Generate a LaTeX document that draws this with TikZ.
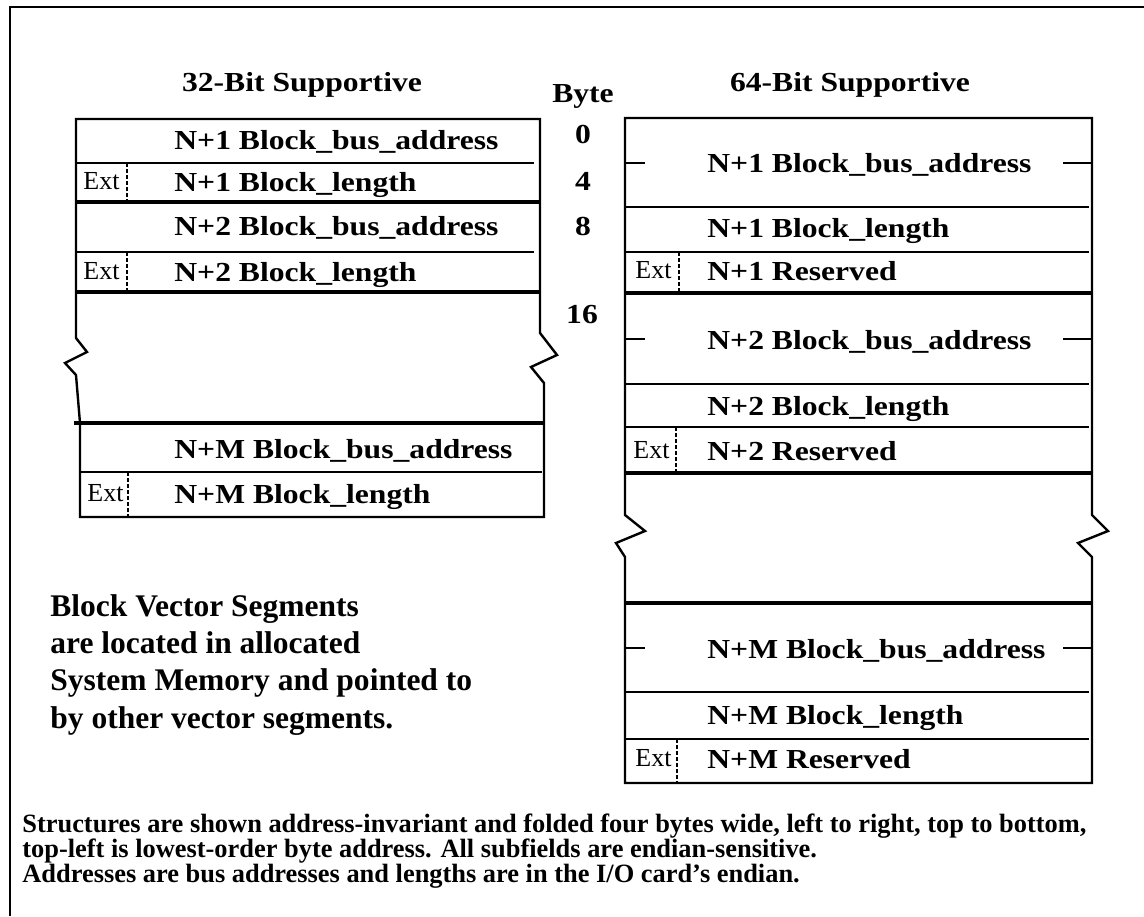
\documentclass[tikz,border=0pt]{standalone}
\usepackage{fontspec}
\setmainfont{Liberation Serif}
\newfontfamily\widefont{Liberation Serif}[FakeStretch=1.15]
\usepackage{tikz}

\tikzset{
  head/.style={font=\widefont\bfseries\fontsize{13.75}{16}\selectfont, inner sep=0pt, anchor=base},
  field/.style={font=\widefont\bfseries\fontsize{13.75}{16}\selectfont, inner sep=0pt, anchor=base west},
  extlabel/.style={font=\fontsize{13}{15}\selectfont, inner sep=0pt, anchor=base west},
  frameline/.style={line width=1.3pt},
  boxline/.style={line width=1.2pt},
  rowline/.style={line width=1pt},
  grpline/.style={line width=2.4pt},
  extline/.style={line width=1.1pt, dash pattern=on 2pt off 1pt},
  desc/.style={font=\bfseries\fontsize{15.75}{18.65}\selectfont, align=left, inner sep=0pt, anchor=north west},
  notes/.style={font=\bfseries\fontsize{13.2}{13}\selectfont, inner sep=0pt, anchor=base west}
}

\begin{document}
\begin{tikzpicture}[x=0.5pt, y=-0.5pt]
      \useasboundingbox (0,0) rectangle (1144,916);
      \draw [frameline] (1144,7) -- (10,7) -- (10,916);

      \node [head] (h32) at (302,91) {32-Bit Supportive};
      \node [head] (h64) at (850,91) {64-Bit Supportive};
      \node [head] (byte) at (583,102) {Byte};
      \node [head] (b0) at (583,143) {0};
      \node [head] (b4) at (583,190) {4};
      \node [head] (b8) at (583,235) {8};
      \node [head] (b16) at (582,323) {16};

      \draw [boxline] (76,119) -- (540,119) -- (540,333) -- (557,355) -- (531,367) -- (544,383)
        -- (544,517) -- (80,517) -- (80,423) -- (76,375) -- (65,363) -- (87,352) -- (76,338) -- cycle;
      \draw [rowline] (76,163) -- (534,163);
      \draw [rowline] (76,252) -- (534,252);
      \draw [rowline] (80,472) -- (542,472);
      \draw [grpline] (76,202) -- (540,202);
      \draw [grpline] (76,292) -- (540,292);
      \draw [grpline] (74,423) -- (544,423);
      \draw [extline] (127,163) -- (127,202);
      \draw [extline] (127,252) -- (127,292);
      \draw [extline] (128,472) -- (128,517);

      \node [field] (l1addr) at (174,149) {N+1 Block\_bus\_address};
      \node [extlabel] (l1ext) at (83,189) {Ext};
      \node [field] (l1len) at (174,191) {N+1 Block\_length};
      \node [field] (l2addr) at (174,235) {N+2 Block\_bus\_address};
      \node [extlabel] (l2ext) at (83,279) {Ext};
      \node [field] (l2len) at (174,281) {N+2 Block\_length};
      \node [field] (lmaddr) at (174,458) {N+M Block\_bus\_address};
      \node [extlabel] (lmext) at (87,501) {Ext};
      \node [field] (lmlen) at (174,503) {N+M Block\_length};

      \draw [boxline] (625,118) -- (1092,118) -- (1092,515) -- (1108,531) -- (1078,543) -- (1092,557)
        -- (1092,783) -- (625,783) -- (625,557) -- (616,543) -- (645,531) -- (625,515) -- cycle;
      \draw [rowline] (625,207) -- (1089,207);
      \draw [rowline] (625,252) -- (1089,252);
      \draw [rowline] (625,384) -- (1089,384);
      \draw [rowline] (625,427) -- (1089,427);
      \draw [rowline] (625,692) -- (1089,692);
      \draw [rowline] (625,739) -- (1089,739);
      \draw [grpline] (625,293) -- (1092,293);
      \draw [grpline] (625,473) -- (1092,473);
      \draw [grpline] (625,603) -- (1092,603);
      \draw [rowline] (625,163) -- (645,163);
      \draw [rowline] (1063,163) -- (1092,163);
      \draw [rowline] (625,339) -- (645,339);
      \draw [rowline] (1063,339) -- (1092,339);
      \draw [rowline] (625,648) -- (645,648);
      \draw [rowline] (1063,648) -- (1092,648);
      \draw [extline] (679,252) -- (679,293);
      \draw [extline] (676,427) -- (676,473);
      \draw [extline] (677,739) -- (677,783);

      \node [field] (r1addr) at (707,172) {N+1 Block\_bus\_address};
      \node [field] (r1len) at (707,237) {N+1 Block\_length};
      \node [extlabel] (r1ext) at (635,278) {Ext};
      \node [field] (r1res) at (707,280) {N+1 Reserved};
      \node [field] (r2addr) at (707,349) {N+2 Block\_bus\_address};
      \node [field] (r2len) at (707,415) {N+2 Block\_length};
      \node [extlabel] (r2ext) at (633,458) {Ext};
      \node [field] (r2res) at (707,460) {N+2 Reserved};
      \node [field] (rmaddr) at (707,658) {N+M Block\_bus\_address};
      \node [field] (rmlen) at (707,724) {N+M Block\_length};
      \node [extlabel] (rmext) at (635,766) {Ext};
      \node [field] (rmres) at (707,768) {N+M Reserved};

      \node [desc] (segs) at (50,594) {Block Vector Segments\\are located in allocated\\System Memory and pointed to\\by other vector segments.};
      \node [notes] (rule1) at (22,832) {Structures are shown address-invariant and folded four bytes wide, left to right, top to bottom,};
      \node [notes] (rule2) at (22,857) {top-left is lowest-order byte address. All subfields are endian-sensitive.};
      \node [notes] (rule3) at (22,882) {Addresses are bus addresses and lengths are in the I/O card’s endian.};
    \end{tikzpicture}
\end{document}
